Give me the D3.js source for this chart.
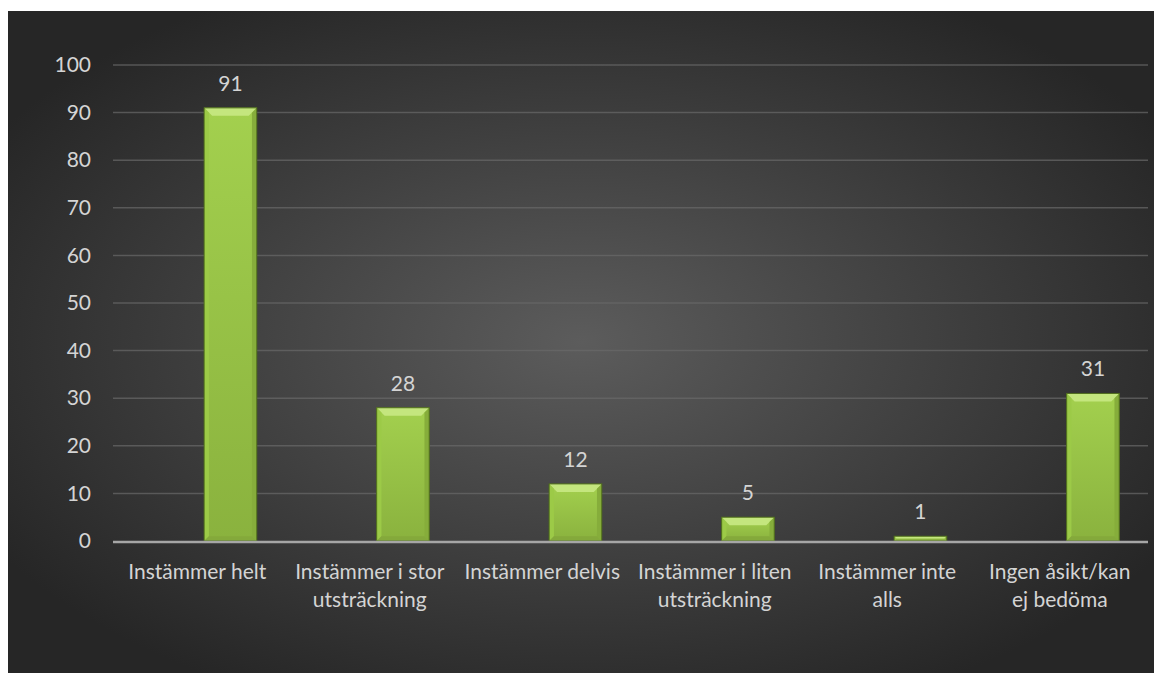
<!DOCTYPE html>
<html>
<head>
<meta charset="utf-8">
<script src="https://cdn.jsdelivr.net/npm/d3@7"></script>
<style>
  html, body { margin: 0; padding: 0; background: #fff; }
  svg { display: block; }
  text { font-family: Lato, "Open Sans", sans-serif; }
</style>
</head>
<body>
<svg id="chart" width="1154" height="673"></svg>
<script>
// chart data
var categories = [
  'Instämmer helt',
  'Instämmer i stor utsträckning',
  'Instämmer delvis',
  'Instämmer i liten utsträckning',
  'Instämmer inte alls',
  'Ingen åsikt/kan ej bedöma'
];
var values = [91, 28, 12, 5, 1, 31];
var tickLabels = [
  ['Instämmer helt'],
  ['Instämmer i stor', 'utsträckning'],
  ['Instämmer delvis'],
  ['Instämmer i liten', 'utsträckning'],
  ['Instämmer inte', 'alls'],
  ['Ingen åsikt/kan', 'ej bedöma']
];
var yTicks = [0, 10, 20, 30, 40, 50, 60, 70, 80, 90, 100];

var svg = d3.select('#chart');
var defs = svg.append('defs');

// background radial gradient
var bg = defs.append('radialGradient').attr('id', 'bg')
  .attr('cx', '50%').attr('cy', '50%').attr('r', '60%');
bg.append('stop').attr('offset', '0%').attr('stop-color', '#5c5c5c');
bg.append('stop').attr('offset', '100%').attr('stop-color', '#262626');

var barGrad = defs.append('linearGradient').attr('id', 'barFill')
  .attr('x1', 0).attr('x2', 0).attr('y1', 0).attr('y2', 1);
barGrad.append('stop').attr('offset', '0%').attr('stop-color', '#a3d04e');
barGrad.append('stop').attr('offset', '100%').attr('stop-color', '#8ab23e');

svg.append('rect')
  .attr('x', 8).attr('y', 11)
  .attr('width', 1146).attr('height', 662)
  .attr('fill', 'url(#bg)');

var margin = { top: 65, left: 113, right: 6, bottom: 132 };
var width = 1154 - margin.left - margin.right,
  height = 673 - margin.top - margin.bottom;

var g = svg.append('g').attr('transform', `translate(${margin.left},${margin.top})`);

var x = d3.scaleBand().domain(categories).range([-2, width - 2]).padding(0);
var y = d3.scaleLinear().domain([0, 100]).range([height, 0]);

// bar sits in the right part of each category slot (empty first series in the source)
var slot = d3.scaleLinear().domain([0, 1]).range([0, x.bandwidth()]);
var bx = (d, i) => x(categories[i]) + slot(0.54);
var bw = slot(0.845) - slot(0.54);

// gridlines
g.append('g')
  .selectAll('line')
  .data(yTicks.filter(d => d > 0))
  .enter().append('line')
  .attr('x1', 0).attr('x2', width)
  .attr('y1', d => y(d)).attr('y2', d => y(d))
  .attr('stroke', '#6a6a6a')
  .attr('stroke-opacity', 0.7)
  .attr('stroke-width', 1.5);

// y axis labels
var yAxis = g.append('g')
  .call(d3.axisLeft(y).tickValues(yTicks).tickSize(0).tickPadding(22));
yAxis.select('.domain').remove();
yAxis.selectAll('text')
  .attr('fill', '#d4d4d4')
  .style('font-size', '21px')
  .style('font-family', 'Lato, "Open Sans", sans-serif');

// bars with bevel
var bars = g.append('g').selectAll('g.bar')
  .data(values)
  .enter().append('g').attr('class', 'bar')
  .attr('transform', (d, i) => `translate(${bx(d, i)},${y(d)})`);

bars.append('rect')
  .attr('width', bw)
  .attr('height', d => height - y(d))
  .attr('fill', 'url(#barFill)');

function bevel(d) { return Math.min(8, (height - y(d)) / 2); }

// top facet
bars.append('path')
  .attr('d', d => {
    var b = bevel(d);
    return `M0,0 L${bw},0 L${bw - b},${b} L${b},${b} Z`;
  })
  .attr('fill', '#c4e67e');
// left facet
bars.append('path')
  .attr('d', d => {
    var b = bevel(d) * 0.6, h = height - y(d);
    return `M0,0 L${b},${b} L${b},${h - b} L0,${h} Z`;
  })
  .attr('fill', '#9cca47');
// right facet
bars.append('path')
  .attr('d', d => {
    var b = bevel(d) * 0.6, h = height - y(d);
    return `M${bw},0 L${bw - b},${b} L${bw - b},${h - b} L${bw},${h} Z`;
  })
  .attr('fill', '#86ad3b');
// bottom facet
bars.append('path')
  .attr('d', d => {
    var b = bevel(d) * 0.6, h = height - y(d);
    return `M0,${h} L${b},${h - b} L${bw - b},${h - b} L${bw},${h} Z`;
  })
  .attr('fill', '#84a93b');
bars.append('rect')
  .attr('width', bw)
  .attr('height', d => height - y(d))
  .attr('fill', 'none')
  .attr('stroke', '#4e6b1c')
  .attr('stroke-width', 1);

// value labels
g.append('g').selectAll('text')
  .data(values)
  .enter().append('text')
  .attr('x', (d, i) => bx(d, i) + bw / 2)
  .attr('y', d => y(d) - 17)
  .attr('text-anchor', 'middle')
  .attr('fill', '#d4d4d4')
  .style('font-size', '21px')
  .text(d => d);

// x axis baseline
g.append('line')
  .attr('x1', 0).attr('x2', width)
  .attr('y1', height + 1).attr('y2', height + 1)
  .attr('stroke', '#a6a6a6')
  .attr('stroke-width', 2.5);

// category labels
var xl = g.append('g').selectAll('text')
  .data(tickLabels)
  .enter().append('text')
  .attr('x', (d, i) => x(categories[i]) + x.bandwidth() / 2)
  .attr('y', height + 38)
  .attr('text-anchor', 'middle')
  .attr('fill', '#d4d4d4')
  .style('font-size', '21px');

xl.selectAll('tspan')
  .data(d => d)
  .enter().append('tspan')
  .attr('x', function() { return d3.select(this.parentNode).attr('x'); })
  .attr('dy', (d, i) => i === 0 ? 0 : 28)
  .text(d => d);
</script>
</body>
</html>
